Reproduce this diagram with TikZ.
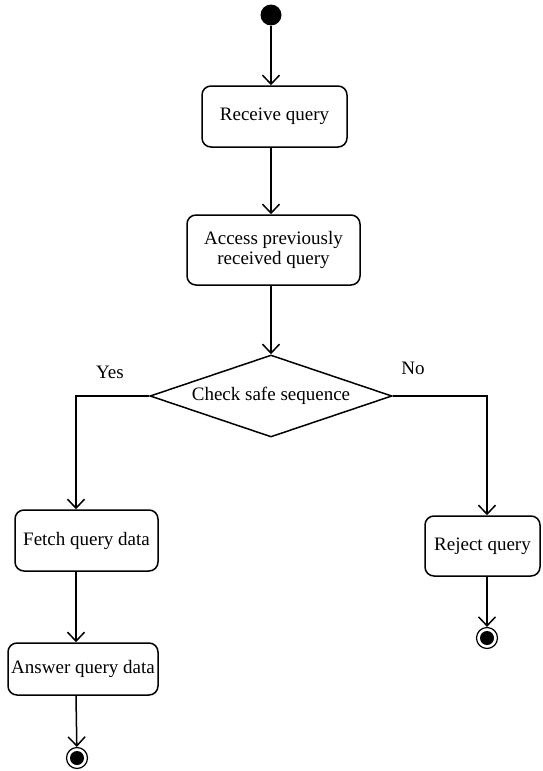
\documentclass[tikz,border=0pt]{standalone}
\usepackage{fontspec}
\setmainfont{Liberation Serif}
\usetikzlibrary{shapes.geometric,arrows.meta}
\begin{document}
\begin{tikzpicture}[x=1pt,y=-1pt,
  font=\fontsize{19}{22}\selectfont,
  every path/.style={line width=1.5pt},
  act/.style={draw,rounded corners=9pt,align=center,inner sep=0pt},
  flow/.style={-{Straight Barb[length=9pt,width=17pt,line width=1.5pt]}},
  initial/.style={circle,fill=black,minimum size=21pt,inner sep=0pt},
  final/.style={circle,draw,line width=1.2pt,minimum size=21pt,inner sep=0pt,
    path picture={\fill[black] (path picture bounding box.center) circle (7pt);}},
  decision/.style={diamond,draw,inner sep=0pt,aspect=2.95,
    minimum width=242pt,minimum height=82pt}]
\useasboundingbox (0,0) rectangle (542,771);

\node[initial] (start) at (271,15) {};
\node[act,minimum width=145pt,minimum height=61pt] (recv) at (274.5,116.5) {Receive query};
\node[act,minimum width=173pt,minimum height=70pt] (access) at (273.5,250) {Access previously\\[-2pt]received query};
\node[decision] (check) at (271,396) {Check safe sequence};
\node[act,minimum width=143pt,minimum height=61pt] (fetch) at (86.5,540.5) {Fetch query data};
\node[act,minimum width=150pt,minimum height=52pt] (answer) at (83,669) {Answer query data};
\node[final] (end1) at (77,758) {};
\node[act,minimum width=115pt,minimum height=60pt] (reject) at (482.5,546) {Reject query};
\node[final] (end2) at (487,638) {};

\node (yes) at (110,372) {Yes};
\node (no) at (413,368) {No};

\coordinate (ycorner) at (76,396);
\coordinate (ncorner) at (487,396);

\draw[flow] (start) -- (start |- recv.north);
\draw[flow] (recv.south -| start) -- (start |- access.north);
\draw[flow] (access.south -| start) -- (check.north);
\draw[flow] (check.west) -- (ycorner) -- (ycorner |- fetch.north);
\draw[flow] (check.east) -- (ncorner) -- (ncorner |- reject.north);
\draw[flow] (fetch.south -| ycorner) -- (ycorner |- answer.north);
\draw[flow] (answer.south -| ycorner) -- (end1);
\draw[flow] (reject.south -| ncorner) -- (end2);
\end{tikzpicture}
\end{document}
